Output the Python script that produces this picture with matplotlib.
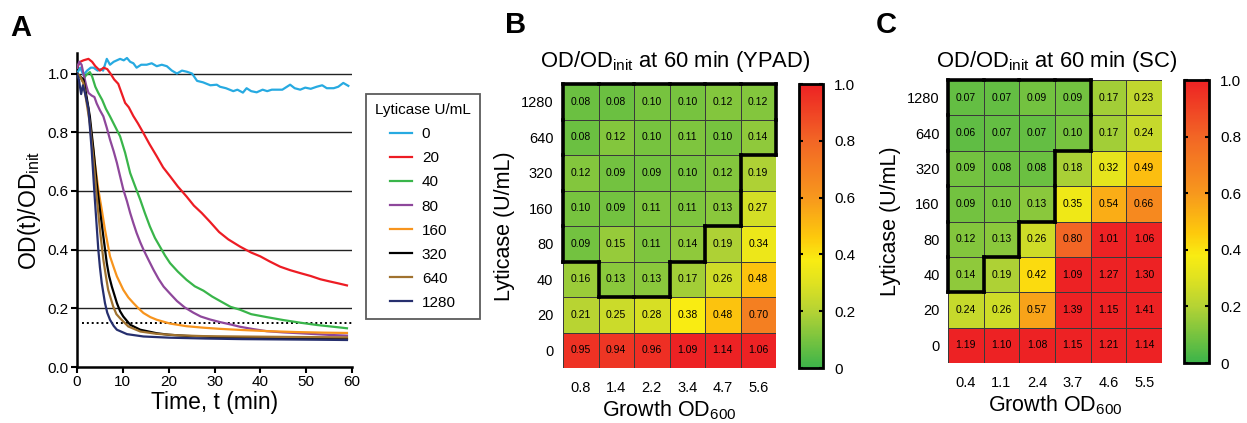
import matplotlib
matplotlib.use("Agg")
import matplotlib.pyplot as plt
import numpy as np
from matplotlib.colors import LinearSegmentedColormap
from matplotlib.collections import LineCollection

plt.rcParams['font.family'] = ['Liberation Sans', 'DejaVu Sans']

# ---- panel A: lysis curves, (time min, OD/OD_init)
lyticase_levels = ['0', '20', '40', '80', '160', '320', '640', '1280']
curve_colors = ['#27aae1', '#ed1c24', '#39b54a', '#8e479b', '#f7941d', '#000000', '#a0722f', '#262f6e']

curve_0 = [(0, 1.0), (0.7, 1.02), (1.4, 0.995), (2.2, 1.01), (3.0, 1.02), (3.6, 1.02), (4.5, 1.01),
           (5.2, 1.015), (5.7, 1.01), (6.5, 1.05), (7.2, 1.03), (8.0, 1.04), (8.7, 1.045), (9.4, 1.05),
           (10.2, 1.045), (10.9, 1.053), (11.6, 1.04), (12.3, 1.035), (13.0, 1.02), (14.0, 1.03),
           (15.2, 1.03), (16.3, 1.035), (17.4, 1.025), (18.5, 1.03), (19.6, 1.025), (20.7, 1.01),
           (21.8, 1.0), (22.9, 1.01), (24.0, 1.006), (25.1, 1.0), (26.2, 0.975), (27.5, 0.97),
           (29.1, 0.96), (30.5, 0.962), (31.2, 0.955), (32.5, 0.95), (34.1, 0.94), (35.0, 0.945),
           (36.2, 0.935), (37.0, 0.95), (38.0, 0.94), (39.2, 0.936), (40.5, 0.945), (41.5, 0.94),
           (42.5, 0.945), (43.6, 0.945), (44.8, 0.945), (45.8, 0.955), (46.5, 0.962), (47.5, 0.95),
           (48.7, 0.945), (49.8, 0.952), (51.0, 0.948), (52.3, 0.955), (53.5, 0.96), (54.5, 0.95),
           (56.0, 0.95), (57.0, 0.955), (58.1, 0.968), (59.2, 0.958)]
curve_20 = [(0, 1.02), (0.7, 1.04), (1.4, 1.045), (2.5, 1.05), (3.3, 1.04), (4.0, 1.025), (5.0, 1.01),
            (5.8, 1.02), (6.6, 1.015), (7.3, 1.0), (8.1, 0.98), (9.0, 0.965), (10.5, 0.9), (11.3, 0.885),
            (12.3, 0.855), (13.3, 0.83), (14.5, 0.797), (15.8, 0.76), (17.4, 0.718), (18.8, 0.68),
            (20.3, 0.65), (22.0, 0.615), (23.9, 0.581), (25.5, 0.55), (27.2, 0.525), (29.0, 0.495),
            (31.0, 0.46), (33.0, 0.435), (35.6, 0.41), (38.0, 0.39), (40.0, 0.377), (42.0, 0.36),
            (44.3, 0.342), (46.5, 0.33), (48.7, 0.32), (51.0, 0.31), (53.1, 0.299), (55.0, 0.292),
            (57.0, 0.285), (58.9, 0.278)]
curve_40 = [(0, 1.0), (0.6, 0.99), (1.2, 0.975), (2.0, 0.995), (2.8, 1.005), (3.3, 0.99), (4.0, 0.955),
            (4.65, 0.934), (5.5, 0.91), (6.3, 0.88), (7.2, 0.854), (8.3, 0.82), (9.4, 0.786), (10.5, 0.73),
            (11.6, 0.661), (12.7, 0.615), (13.8, 0.57), (14.8, 0.525), (15.9, 0.479), (17.0, 0.44),
            (18.1, 0.41), (19.2, 0.38), (20.3, 0.354), (22.0, 0.325), (23.9, 0.297), (25.7, 0.275),
            (27.6, 0.26), (29.5, 0.24), (31.2, 0.225), (33.5, 0.205), (35.6, 0.195), (38.0, 0.18),
            (41.4, 0.17), (45.0, 0.16), (48.7, 0.151), (52.4, 0.143), (56.0, 0.137), (58.9, 0.132)]
curve_80 = [(0, 1.02), (0.5, 1.04), (1.0, 1.03), (1.4, 1.0), (2.0, 0.96), (2.5, 0.934), (3.2, 0.925),
            (3.8, 0.92), (4.3, 0.898), (5.0, 0.875), (5.75, 0.854), (6.5, 0.815), (7.2, 0.775), (8.0, 0.735),
            (8.7, 0.696), (9.4, 0.65), (10.1, 0.605), (10.9, 0.565), (11.6, 0.525), (12.3, 0.49),
            (13.0, 0.457), (13.8, 0.425), (14.5, 0.40), (15.6, 0.365), (16.7, 0.331), (17.8, 0.30),
            (18.9, 0.274), (20.3, 0.25), (21.8, 0.225), (23.5, 0.203), (25.4, 0.185), (27.0, 0.172),
            (29.0, 0.162), (31.2, 0.153), (33.5, 0.145), (35.6, 0.137), (38.5, 0.129), (41.4, 0.122),
            (45.0, 0.118), (48.7, 0.115), (52.0, 0.112), (55.5, 0.109), (58.9, 0.107)]
curve_160 = [(0, 1.0), (0.7, 0.99), (1.4, 0.968), (2.0, 0.92), (2.5, 0.877), (3.2, 0.786), (3.9, 0.695),
             (4.65, 0.605), (5.4, 0.536), (6.1, 0.468), (7.2, 0.377), (8.0, 0.34), (8.7, 0.309),
             (10.1, 0.263), (11.2, 0.237), (12.3, 0.218), (13.4, 0.2), (14.5, 0.184), (16.0, 0.17),
             (17.4, 0.161), (20.3, 0.148), (23.9, 0.139), (27.5, 0.134), (31.2, 0.13), (36.0, 0.126),
             (42.0, 0.122), (48.0, 0.119), (54.0, 0.117), (58.9, 0.116)]
curve_320 = [(0, 1.0), (0.7, 0.99), (1.4, 0.98), (2.1, 0.92), (2.8, 0.854), (3.6, 0.74), (4.3, 0.627),
             (5.0, 0.536), (5.75, 0.445), (6.5, 0.354), (7.0, 0.31), (7.6, 0.274), (8.7, 0.218), (9.4, 0.19),
             (10.1, 0.172), (11.6, 0.144), (13.8, 0.127), (17.4, 0.115), (20.0, 0.11), (23.9, 0.106),
             (30.0, 0.102), (36.0, 0.1), (42.0, 0.099), (48.0, 0.098), (54.0, 0.097), (58.9, 0.096)]
curve_640 = [(0, 1.0), (0.7, 0.99), (1.4, 0.968), (2.1, 0.9), (2.8, 0.83), (3.6, 0.706), (4.3, 0.582),
             (5.0, 0.468), (5.75, 0.366), (6.3, 0.31), (6.8, 0.263), (7.9, 0.206), (8.6, 0.18), (9.4, 0.166),
             (11.2, 0.138), (13.8, 0.121), (17.4, 0.113), (22.0, 0.108), (28.0, 0.105), (35.0, 0.104),
             (42.0, 0.103), (50.0, 0.102), (58.9, 0.101)]
curve_1280 = [(0, 1.0), (0.4, 0.98), (0.9, 0.93), (1.3, 0.96), (1.8, 0.93), (2.5, 0.88), (3.2, 0.74),
              (3.9, 0.57), (4.65, 0.4), (5.0, 0.34), (5.4, 0.286), (6.1, 0.218), (6.6, 0.185), (7.2, 0.161),
              (8.0, 0.14), (8.7, 0.127), (10.9, 0.112), (14.5, 0.104), (20.0, 0.1), (28.0, 0.097),
              (36.0, 0.095), (44.0, 0.094), (52.0, 0.093), (58.9, 0.092)]
curves = [curve_0, curve_20, curve_40, curve_80, curve_160, curve_320, curve_640, curve_1280]

threshold = 0.15

# ---- panels B and C: OD/OD_init at 60 min, rows from 1280 down to 0 U/mL
row_labels = ['1280', '640', '320', '160', '80', '40', '20', '0']
ypad_od = ['0.8', '1.4', '2.2', '3.4', '4.7', '5.6']
sc_od = ['0.4', '1.1', '2.4', '3.7', '4.6', '5.5']
ypad_vals = [[0.08, 0.08, 0.10, 0.10, 0.12, 0.12],
             [0.08, 0.12, 0.10, 0.11, 0.10, 0.14],
             [0.12, 0.09, 0.09, 0.10, 0.12, 0.19],
             [0.10, 0.09, 0.11, 0.11, 0.13, 0.27],
             [0.09, 0.15, 0.11, 0.14, 0.19, 0.34],
             [0.16, 0.13, 0.13, 0.17, 0.26, 0.48],
             [0.21, 0.25, 0.28, 0.38, 0.48, 0.70],
             [0.95, 0.94, 0.96, 1.09, 1.14, 1.06]]
sc_vals = [[0.07, 0.07, 0.09, 0.09, 0.17, 0.23],
           [0.06, 0.07, 0.07, 0.10, 0.17, 0.24],
           [0.09, 0.08, 0.08, 0.18, 0.32, 0.49],
           [0.09, 0.10, 0.13, 0.35, 0.54, 0.66],
           [0.12, 0.13, 0.26, 0.80, 1.01, 1.06],
           [0.14, 0.19, 0.42, 1.09, 1.27, 1.30],
           [0.24, 0.26, 0.57, 1.39, 1.15, 1.41],
           [1.19, 1.10, 1.08, 1.15, 1.21, 1.14]]

cmap = LinearSegmentedColormap.from_list('gyr', [
    (0.0, '#3cb44a'), (0.2, '#b5d334'), (0.3, '#e0e220'), (0.38, '#f9ec12'),
    (0.46, '#fdc90c'), (0.6, '#f7981d'), (0.8, '#f26625'), (1.0, '#ed2224')])

W, H = 1247, 423
fig = plt.figure(figsize=(W / 100, H / 100), dpi=100)


def box(x0, y0, x1, y1):
    # pixel box (top-left origin) -> figure fraction
    return [x0 / W, 1 - y1 / H, (x1 - x0) / W, (y1 - y0) / H]


# ---------------- A
ax = fig.add_axes(box(77, 53, 352, 367))
for yg in [0.2, 0.4, 0.6, 0.8, 1.0]:
    ax.plot([0, 60], [yg, yg], color='#222222', lw=1, zorder=1)
ax.plot([1, 60], [threshold, threshold], color='black', lw=1.4, ls=(0, (1, 1.5)), zorder=1)
for c, col, lab in zip(curves, curve_colors, lyticase_levels):
    arr = np.array(c)
    ax.plot(arr[:, 0], arr[:, 1], color=col, lw=1.6, label=lab, zorder=3)
ax.set_xlim(0, 60)
ax.set_ylim(0, 1.07)
ax.set_xticks(range(0, 61, 10))
ax.set_yticks([0, 0.2, 0.4, 0.6, 0.8, 1.0])
ax.set_yticklabels(['0.0', '0.2', '0.4', '0.6', '0.8', '1.0'])
for s in ['top', 'right']:
    ax.spines[s].set_visible(False)
for s in ['left', 'bottom']:
    ax.spines[s].set_linewidth(1.8)
ax.tick_params(labelsize=11, length=4, width=1.5, pad=2)
ax.set_xlabel('Time, t (min)', fontsize=16.5, labelpad=1)
ax.set_ylabel(r'OD(t)/OD$_\mathregular{init}$', fontsize=16.5, labelpad=3)
leg = ax.legend(loc='upper left', bbox_to_anchor=(366 / W, 1 - 94 / H), bbox_transform=fig.transFigure,
                title='Lyticase U/mL', title_fontsize=11, fontsize=11, frameon=True, fancybox=False,
                edgecolor='#333333', handlelength=1.4, handletextpad=0.65, labelspacing=0.66,
                borderpad=0.6, borderaxespad=0)
leg.get_frame().set_linewidth(1.3)

fig.text(10 / W, 1 - 36 / H, 'A', fontsize=21, fontweight='bold', va='baseline')
fig.text(505 / W, 1 - 33 / H, 'B', fontsize=21, fontweight='bold', va='baseline')
fig.text(876 / W, 1 - 33 / H, 'C', fontsize=21, fontweight='bold', va='baseline')


def heat(hbox, cbox, vals, cols, title, tx, ylab_pad):
    hx = fig.add_axes(box(*hbox))
    v = np.array(vals)[::-1]
    nr, nc = v.shape
    im = hx.pcolormesh(np.arange(nc + 1), np.arange(nr + 1), v, cmap=cmap, vmin=0, vmax=1,
                       edgecolors='#3a3a3a', linewidth=0.7)
    for i in range(nr):
        for j in range(nc):
            hx.text(j + 0.5, i + 0.5, f'{v[i, j]:.2f}', ha='center', va='center', fontsize=7.5)
    # outline around cells at or below the threshold
    m = v <= threshold
    segs = []
    for i in range(nr):
        for j in range(nc):
            if not m[i, j]:
                continue
            if i == 0 or not m[i - 1, j]:
                segs.append([(j, i), (j + 1, i)])
            if i == nr - 1 or not m[i + 1, j]:
                segs.append([(j, i + 1), (j + 1, i + 1)])
            if j == 0 or not m[i, j - 1]:
                segs.append([(j, i), (j, i + 1)])
            if j == nc - 1 or not m[i, j + 1]:
                segs.append([(j + 1, i), (j + 1, i + 1)])
    hx.add_collection(LineCollection(segs, colors='black', linewidths=2.6, capstyle='projecting',
                                     clip_on=False, zorder=5))
    hx.set_xlim(0, nc)
    hx.set_ylim(0, nr)
    hx.set_xticks(np.arange(nc) + 0.5)
    hx.set_xticklabels(cols)
    hx.set_yticks(np.arange(nr) + 0.5)
    hx.set_yticklabels(row_labels[::-1])
    hx.tick_params(length=0, labelsize=10.5)
    hx.tick_params(axis='x', pad=9)
    hx.tick_params(axis='y', pad=ylab_pad)
    for s in hx.spines.values():
        s.set_visible(False)
    hx.set_xlabel(r'Growth OD$_\mathregular{600}$', fontsize=15.5, labelpad=3)
    hx.set_ylabel('Lyticase (U/mL)', fontsize=15.5, labelpad=4)
    fig.text(tx / W, 1 - 67 / H, title, fontsize=15.8, ha='center', va='baseline')
    cx = fig.add_axes(box(*cbox))
    cb = fig.colorbar(im, cax=cx)
    cb.set_ticks([0, 0.2, 0.4, 0.6, 0.8, 1.0])
    cb.set_ticklabels(['0', '0.2', '0.4', '0.6', '0.8', '1.0'])
    cb.outline.set_linewidth(2)
    cx.tick_params(direction='in', left=True, right=True, length=3, width=1.5, labelsize=11, pad=8)


heat((563, 84, 776, 368), (799, 84, 823, 368), ypad_vals, ypad_od,
     r'OD/OD$_\mathregular{init}$ at 60 min (YPAD)', 675, 7)
heat((948, 80, 1162, 363), (1184, 80, 1209, 363), sc_vals, sc_od,
     r'OD/OD$_\mathregular{init}$ at 60 min (SC)', 1057, 6)

fig.savefig('out.png', dpi=100)
